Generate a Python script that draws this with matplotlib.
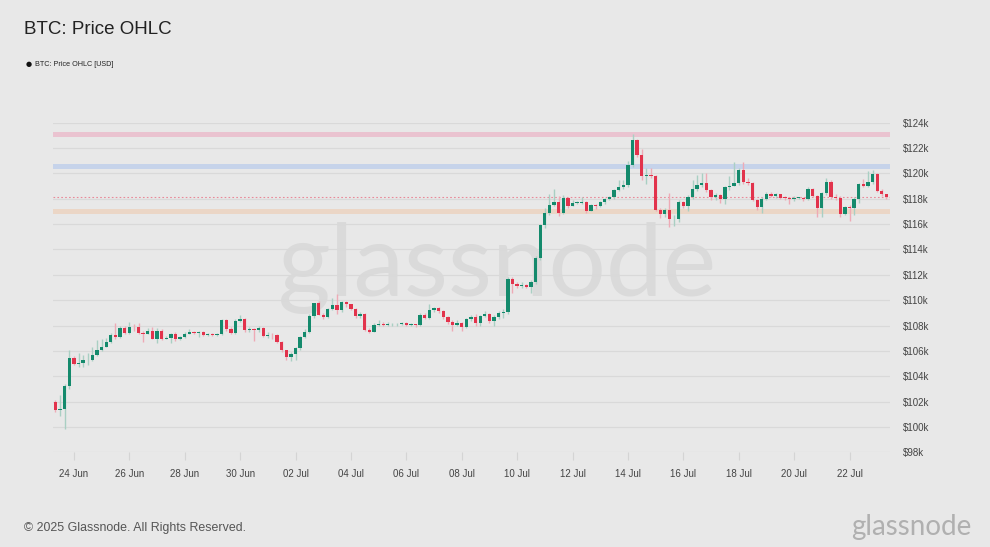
import matplotlib
matplotlib.use("Agg")
import matplotlib.pyplot as plt
import matplotlib.dates as mdates
import numpy as np
import pandas as pd

# ---- data (USD thousands), 4h candles from 2025-06-23 08:00 ----
start_time = "2025-06-23 08:00"
first_open = 101.97
close = [
    101.32, 101.45, 103.21, 105.45, 105.00, 105.05, 105.26, 105.32, 105.71, 106.10,
    106.32, 106.68, 107.24, 107.08, 107.82, 107.42, 107.89, 107.85, 107.39, 107.37,
    107.60, 106.97, 107.55, 106.95, 107.03, 107.37, 106.90, 107.08, 107.37, 107.50,
    107.42, 107.47, 107.29, 107.32, 107.26, 107.34, 108.45, 107.76, 107.39, 108.39,
    108.53, 107.66, 107.68, 107.63, 107.80, 107.21, 107.24, 107.22, 106.71, 106.05,
    105.50, 105.74, 106.24, 107.10, 107.50, 108.79, 109.74, 108.87, 108.68, 109.32,
    109.60, 109.21, 109.84, 109.66, 109.32, 108.76, 108.92, 107.63, 107.50, 108.03,
    108.16, 108.08, 108.10, 108.10, 108.12, 108.18, 108.08, 108.08, 108.05, 108.87,
    108.61, 109.21, 109.39, 109.13, 108.68, 108.29, 108.08, 108.21, 107.90, 108.50,
    108.70, 108.23, 108.76, 108.90, 108.36, 108.65, 109.02, 109.07, 111.67, 111.25,
    111.15, 111.20, 111.07, 111.41, 113.36, 115.93, 116.85, 117.51, 117.77, 116.90,
    118.03, 117.45, 117.65, 117.70, 117.75, 117.06, 117.51, 117.43, 117.72, 117.96,
    118.11, 118.69, 118.96, 119.09, 120.66, 122.63, 121.45, 119.80, 119.85, 119.82,
    117.12, 116.78, 117.10, 116.38, 116.42, 117.77, 117.46, 118.17, 118.75, 119.09,
    119.22, 118.69, 118.11, 118.30, 117.98, 118.90, 119.00, 119.22, 120.27, 119.35,
    119.22, 117.90, 117.38, 117.98, 118.38, 118.25, 118.35, 118.09, 118.04, 117.96,
    118.04, 118.04, 117.96, 118.75, 118.25, 117.30, 118.43, 119.35, 118.17, 118.04,
    116.77, 117.38, 117.30, 117.96, 119.14, 119.00, 119.30, 119.93, 118.64, 118.35,
    118.12,
]
high = [
    102.15, 102.55, 103.40, 106.10, 105.60, 105.80, 105.70, 105.80, 106.30, 106.85,
    106.90, 107.00, 107.40, 108.20, 108.00, 107.95, 108.30, 108.10, 108.20, 107.60,
    107.80, 107.90, 107.80, 107.70, 107.20, 107.45, 107.50, 107.20, 107.50, 107.70,
    107.60, 107.60, 107.55, 107.45, 107.40, 107.40, 108.50, 108.55, 107.90, 108.50,
    108.80, 108.60, 107.90, 107.80, 108.00, 107.85, 107.50, 107.45, 107.30, 106.80,
    106.10, 105.90, 106.30, 107.20, 107.70, 108.90, 109.80, 109.90, 109.00, 109.40,
    110.20, 110.50, 109.95, 109.90, 109.70, 109.35, 109.05, 108.95, 107.80, 108.20,
    108.40, 108.30, 108.25, 108.20, 108.20, 108.30, 108.25, 108.20, 108.15, 109.00,
    109.00, 109.70, 109.50, 109.45, 109.20, 108.75, 108.40, 108.40, 108.30, 108.60,
    108.85, 108.90, 108.85, 109.15, 109.00, 108.80, 109.15, 109.30, 111.80, 111.85,
    111.40, 111.40, 111.30, 111.60, 113.50, 116.00, 117.30, 118.40, 118.75, 118.20,
    118.30, 118.10, 117.90, 117.85, 118.15, 117.85, 117.60, 117.60, 117.80, 118.05,
    118.25, 118.75, 119.50, 119.45, 121.00, 123.10, 122.70, 121.90, 120.40, 120.40,
    119.90, 117.30, 117.30, 118.43, 116.70, 117.90, 117.85, 118.30, 119.50, 119.85,
    120.00, 120.00, 118.80, 118.45, 118.40, 119.00, 119.80, 120.90, 120.40, 120.90,
    119.60, 119.30, 118.00, 118.10, 118.50, 118.50, 118.45, 118.40, 118.20, 118.15,
    118.20, 118.15, 118.10, 118.90, 118.85, 118.30, 118.55, 119.60, 119.50, 118.40,
    118.20, 117.45, 117.50, 118.10, 119.25, 119.55, 120.20, 120.27, 120.00, 118.75,
    118.40,
]
low = [
    101.15, 100.90, 99.80, 103.00, 104.85, 104.75, 104.70, 104.85, 105.20, 105.60,
    106.00, 106.30, 106.60, 106.95, 107.00, 107.30, 107.30, 107.60, 107.30, 106.70,
    107.30, 106.90, 106.60, 106.85, 106.90, 106.60, 106.75, 106.85, 107.00, 107.30,
    107.30, 107.10, 107.20, 107.20, 107.15, 107.15, 107.25, 107.60, 107.30, 107.30,
    108.30, 107.50, 107.50, 106.80, 107.50, 107.10, 107.00, 106.90, 106.60, 105.95,
    105.30, 105.20, 105.30, 106.10, 107.00, 107.40, 108.60, 108.80, 108.50, 108.60,
    109.20, 108.90, 109.10, 109.50, 109.20, 108.60, 108.60, 107.55, 107.40, 107.50,
    108.00, 107.95, 108.00, 107.95, 108.00, 108.05, 107.95, 107.95, 107.90, 108.00,
    108.50, 108.50, 109.10, 109.00, 108.55, 108.10, 107.60, 107.95, 107.60, 107.80,
    108.35, 108.00, 107.95, 108.70, 108.20, 108.00, 108.55, 108.60, 108.90, 110.60,
    110.95, 110.95, 110.95, 110.60, 111.30, 113.20, 115.70, 116.70, 117.40, 116.65,
    116.80, 117.30, 117.40, 117.55, 117.55, 116.90, 117.00, 117.20, 117.35, 117.60,
    117.90, 118.00, 118.60, 118.80, 118.90, 120.50, 121.30, 119.50, 119.20, 119.60,
    117.00, 116.50, 116.60, 115.80, 115.85, 116.20, 117.30, 117.00, 118.00, 118.60,
    118.90, 118.50, 117.90, 117.90, 117.70, 117.60, 118.70, 119.00, 119.10, 119.20,
    119.05, 117.80, 117.10, 116.85, 117.90, 118.10, 118.05, 117.95, 117.90, 117.55,
    117.85, 117.95, 117.85, 117.90, 118.10, 116.60, 116.60, 118.30, 118.00, 117.90,
    116.60, 116.70, 116.25, 116.75, 117.70, 118.90, 118.90, 119.20, 118.50, 118.20,
    118.00,
]
# horizontal level bands (USD thousands)
band_levels = [123.10, 120.58, 116.96]
band_colors = ["#eac3d0", "#c6d3ea", "#ebd6c6"]
y_ticks = list(range(98, 125, 2))
x_tick_dates = pd.date_range("2025-06-24", "2025-07-22", freq="2D")

# ---- derived ----
opens = [first_open] + close[:-1]
times = pd.date_range(start_time, periods=len(close), freq="4h")
xn = mdates.date2num(times.to_pydatetime())

BG = "#e8e8e8"
UP = "#148a6c"
DOWN = "#e2334c"
UP_W = "#a9cfc3"
DOWN_W = "#eeaab5"

fig = plt.figure(figsize=(9.9, 5.47), dpi=100, facecolor=BG)
ax = fig.add_axes([53 / 990, 1 - 452.3 / 547, (890 - 53) / 990, (452.3 - 122.7) / 547])
ax.set_facecolor(BG)

# watermark behind the data
ax.text(497 / 990, 1 - 268 / 547, "glassnode", fontsize=73, color="#dadada",
        va="center", ha="center", family="Lato", fontweight="normal",
        transform=fig.transFigure, zorder=0.2)

for lvl, col in zip(band_levels, band_colors):
    ax.axhspan(lvl - 0.2, lvl + 0.2, color=col, lw=0, zorder=1)

for yv in y_ticks:
    ax.axhline(yv, color="#d9d9d9", lw=0.9, zorder=0.5)

o = np.array(opens)
c = np.array(close)
h = np.array(high)
l = np.array(low)
up = c >= o
wcols = np.where(up, UP_W, DOWN_W)
bcols = np.where(up, UP, DOWN)
ax.vlines(xn, l, h, colors=wcols, lw=1.0, zorder=2)
bottoms = np.minimum(o, c)
heights = np.maximum(np.abs(c - o), 0.06)
ax.bar(xn, heights, bottom=bottoms, width=0.12, color=bcols, lw=0, zorder=3)

ax.axhline(close[-1], color="#e88a99", lw=0.8, ls=(0, (1.5, 2)), zorder=1.5)

x0 = mdates.date2num(pd.Timestamp("2025-06-24").to_pydatetime())
ax.set_xlim(x0 - 0.7545, x0 + 29.462)
ax.set_ylim(98, 124)

for s in ax.spines.values():
    s.set_visible(False)
ax.yaxis.tick_right()
ax.set_yticks(y_ticks)
ax.set_yticklabels([f"${v}k" for v in y_ticks])
ax.tick_params(axis="y", length=0, pad=9, labelsize=7, labelcolor="#444444")
ax.set_xticks(mdates.date2num(x_tick_dates.to_pydatetime()))
ax.xaxis.set_major_formatter(mdates.DateFormatter("%d %b"))
ax.tick_params(axis="x", length=6, width=0.8, color="#d4d4d4", pad=6,
               labelsize=7, labelcolor="#444444")
for lab in ax.get_xticklabels() + ax.get_yticklabels():
    lab.set_family("Liberation Sans")

fig.text(24 / 990, 1 - 30 / 547, "BTC: Price OHLC", fontsize=13.5, color="#222222",
         va="center", ha="left", family="Liberation Sans")
fig.text(29 / 990, 1 - 64 / 547, "\u25CF", fontsize=5, color="#111111",
         va="center", ha="center", family="DejaVu Sans")
fig.text(35 / 990, 1 - 64 / 547, "BTC: Price OHLC [USD]", fontsize=5.2, color="#222222",
         va="center", ha="left", family="Liberation Sans")
fig.text(24 / 990, 1 - 528 / 547, "\u00A9 2025 Glassnode. All Rights Reserved.",
         fontsize=8.9, color="#555555", va="center", ha="left", family="Liberation Sans")
fig.text(972 / 990, 1 - 527 / 547, "glassnode", fontsize=20, color="#b0b0b0",
         va="center", ha="right", family="Lato", fontweight="normal")

fig.savefig("out.png", dpi=100, facecolor=BG)
